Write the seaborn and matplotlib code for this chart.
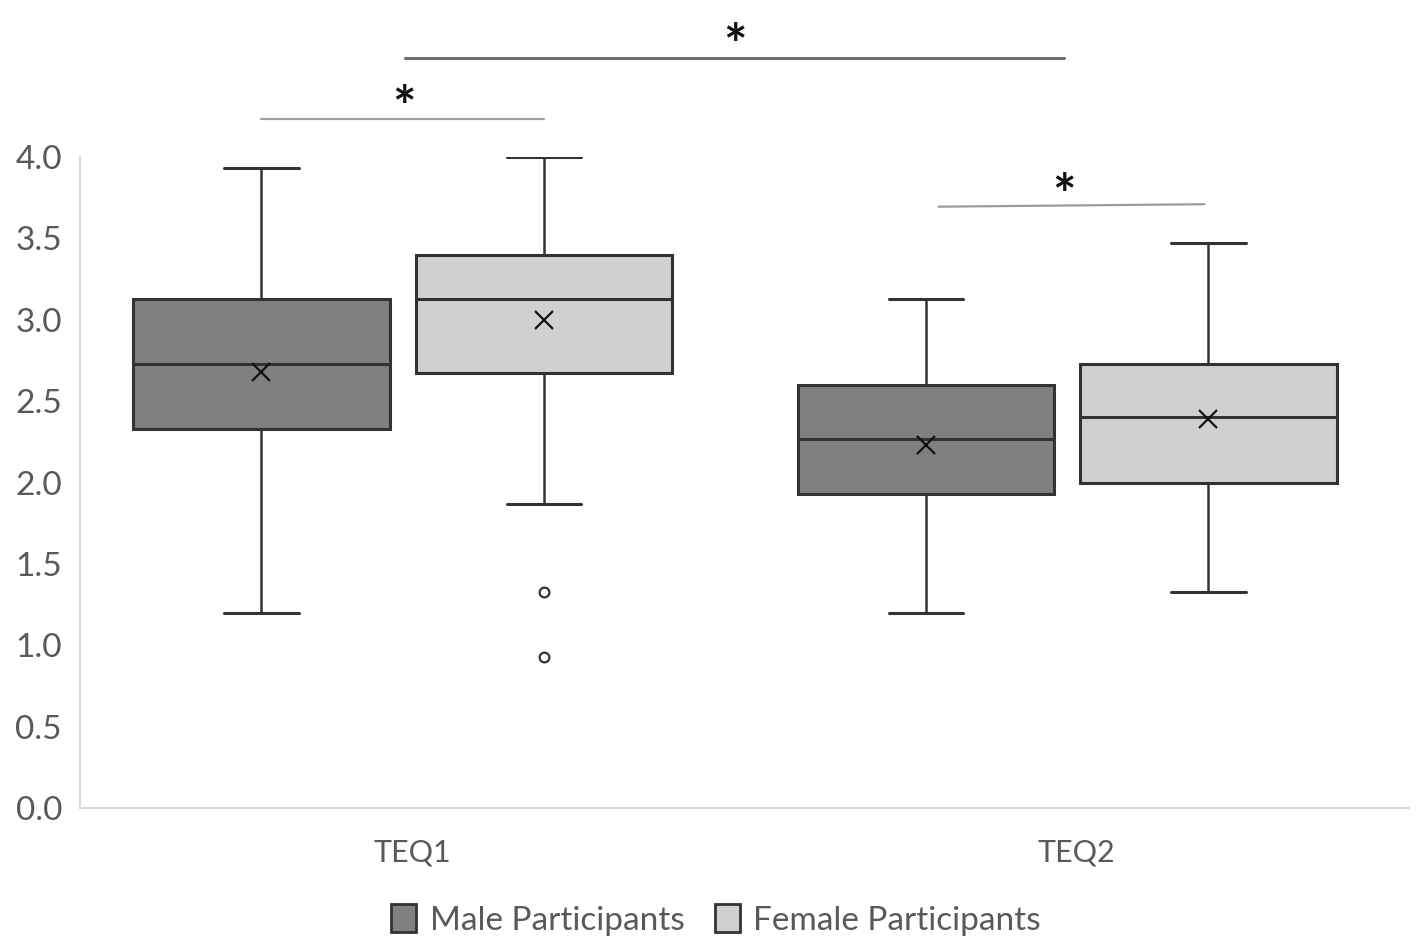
import matplotlib
matplotlib.use("Agg")
import matplotlib.pyplot as plt
from matplotlib.patches import Patch
import seaborn as sns

# ====== Data ======
groups = ["TEQ1", "TEQ2"]
series = ["Male Participants", "Female Participants"]

male_whislo = [1.20, 1.20]
male_q1 = [2.33, 1.93]
male_med = [2.73, 2.27]
male_mean = [2.68, 2.23]
male_q3 = [3.13, 2.60]
male_whishi = [3.93, 3.13]
male_fliers = [[], []]

female_whislo = [1.87, 1.33]
female_q1 = [2.67, 2.00]
female_med = [3.13, 2.40]
female_mean = [3.00, 2.39]
female_q3 = [3.40, 2.73]
female_whishi = [4.00, 3.47]
female_fliers = [[1.33, 0.93], []]

# ====== Style ======
sns.set_theme(style="white")
plt.rcParams["font.family"] = ["Lato", "DejaVu Sans"]
TEXT_GREY = "#595959"
EDGE = "#333333"
COLORS = ["#808080", "#d0d0d0"]
OFFSETS = [-0.227, 0.198]
BOX_W = 0.386


def make_stats(whislo, q1, med, mean, q3, whishi, fliers):
    return [dict(whislo=whislo[i], q1=q1[i], med=med[i], mean=mean[i],
                 q3=q3[i], whishi=whishi[i], fliers=fliers[i])
            for i in range(len(groups))]


all_stats = [
    make_stats(male_whislo, male_q1, male_med, male_mean, male_q3, male_whishi, male_fliers),
    make_stats(female_whislo, female_q1, female_med, female_mean, female_q3, female_whishi, female_fliers),
]

fig = plt.figure(figsize=(14.18, 9.5), dpi=100)
ax = fig.add_axes([0.0564, 0.1495, 0.9373, 0.6852])

for s, stats in enumerate(all_stats):
    positions = [i + OFFSETS[s] for i in range(len(groups))]
    ax.bxp(stats, positions=positions, widths=BOX_W, patch_artist=True,
           showmeans=True, showfliers=True,
           boxprops=dict(facecolor=COLORS[s], edgecolor=EDGE, linewidth=2.2),
           medianprops=dict(color=EDGE, linewidth=2.2),
           whiskerprops=dict(color=EDGE, linewidth=1.8),
           capprops=dict(color=EDGE, linewidth=2.2),
           capwidths=BOX_W * 0.29,
           meanprops=dict(marker="x", markersize=13, markeredgecolor="#111111",
                          markeredgewidth=1.6),
           flierprops=dict(marker="o", markersize=7, markerfacecolor="white",
                           markeredgecolor=EDGE, markeredgewidth=1.6),
           manage_ticks=False)

ax.set_xlim(-0.5, 1.5)
ax.set_ylim(0, 4.0)
ax.set_xticks(range(len(groups)))
ax.set_xticklabels(groups)
ax.set_yticks([0, 0.5, 1.0, 1.5, 2.0, 2.5, 3.0, 3.5, 4.0])
ax.set_yticklabels([f"{v:.1f}" for v in ax.get_yticks()])
ax.tick_params(axis="y", length=0, pad=13, labelsize=24, labelcolor=TEXT_GREY)
ax.tick_params(axis="x", length=0, pad=22, labelsize=22, labelcolor=TEXT_GREY)

for side in ["top", "right"]:
    ax.spines[side].set_visible(False)
for side in ["left", "bottom"]:
    ax.spines[side].set_color("#d9d9d9")
    ax.spines[side].set_linewidth(1.5)

# ====== Significance brackets ======
def sig_line(x0, x1, y0, y1, color, lw, sx, sy):
    ax.plot([x0, x1], [y0, y1], color=color, linewidth=lw, clip_on=False)
    ax.text(sx, sy, "*", ha="center", va="center", fontsize=40,
            color="#111111", fontweight="bold", clip_on=False)

sig_line(-0.227, 0.198, 4.233, 4.233, "#a0a0a0", 1.6, -0.012, 4.29)
sig_line(-0.011, 0.980, 4.608, 4.608, "#6e6e6e", 2.2, 0.485, 4.67)
sig_line(0.792, 1.192, 3.695, 3.71, "#9a9a9a", 1.6, 0.98, 3.75)

# ====== Legend ======
handles = [Patch(facecolor=COLORS[i], edgecolor=EDGE, linewidth=2) for i in range(len(series))]
fig.legend(handles, series, loc="center", bbox_to_anchor=(716 / 1418, 1 - 920 / 950),
           ncol=2, frameon=False, fontsize=24, labelcolor=TEXT_GREY,
           handlelength=0.75, handleheight=0.9, handletextpad=0.4, columnspacing=0.9)

plt.savefig("out.png", dpi=100)
